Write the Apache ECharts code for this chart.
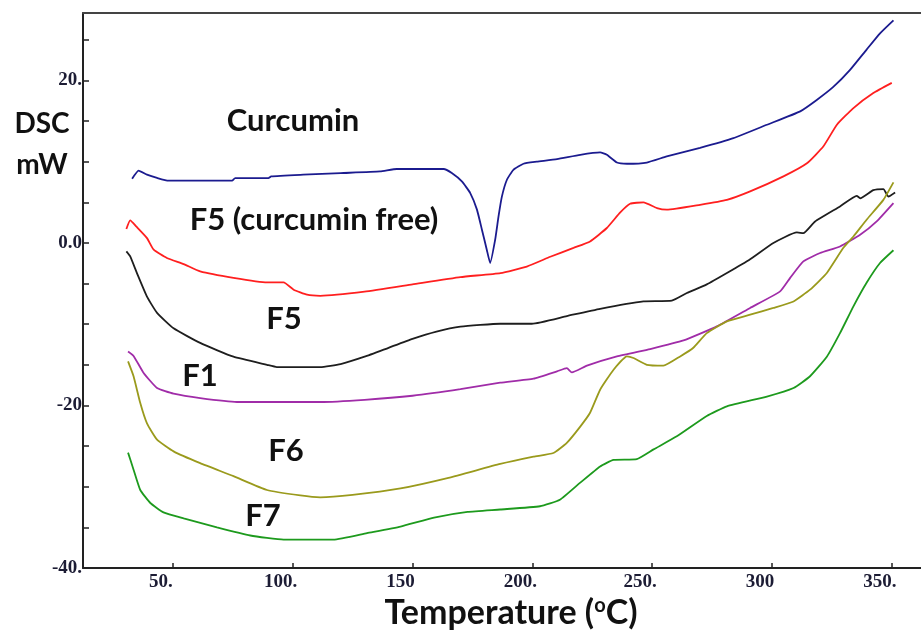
<!DOCTYPE html>
<html>
<head>
<meta charset="utf-8">
<title>DSC thermograms</title>
<script src="https://cdn.jsdelivr.net/npm/echarts@6/dist/echarts.min.js"></script>
<style>
  html, body { margin: 0; padding: 0; background: #fff; }
  #chart { width: 921px; height: 632px; }
</style>
</head>
<body>
<div id="chart"></div>
<script>
// temperature (°C) / heat flow (mW)
const curcuminT = [33.0, 35.7, 39.2, 43.4, 48.2, 74.7, 76, 89.9, 91, 104.4, 120, 136.5, 143.5, 163, 166.4, 170.6, 174.1, 176.9, 179, 181, 182.4, 184.5, 185.9, 187.3, 189.4, 192.1, 196.3, 201.9, 210.3, 220, 228.3, 231.1, 235.3, 239.5, 247.8, 256.1, 270, 283.9, 297.9, 311.8, 318.7, 325.6, 332.6, 339.5, 345.1, 350.7]
const curcuminDSC = [7.9, 8.9, 8.4, 8.0, 7.66, 7.66, 7.99, 7.99, 8.19, 8.4, 8.6, 8.8, 9.1, 9.1, 8.6, 7.57, 6.14, 4.1, 1.6, -0.83, -2.47, 0.4, 3.27, 5.7, 7.78, 9.0, 9.75, 10.0, 10.33, 10.85, 11.14, 10.85, 9.9, 9.75, 9.9, 10.65, 11.7, 12.9, 14.55, 16.2, 17.6, 19.2, 21.3, 23.8, 25.8, 27.4]

const f5FreeT = [30.6, 32.2, 34.8, 39.2, 42, 47.5, 54.5, 61.4, 75.3, 89.3, 96.2, 100.4, 106, 111.5, 130, 150, 170, 186.7, 197.7, 207.5, 217.2, 224.1, 231.1, 236.7, 240.8, 246.4, 252, 256.1, 270, 281.2, 290.9, 304.8, 314.6, 321.5, 327.1, 334, 342.3, 350]
const f5FreeDSC = [1.71, 2.77, 2.0, 0.6, -0.83, -1.85, -2.6, -3.5, -4.3, -4.86, -4.86, -5.75, -6.37, -6.5, -6.0, -5.1, -4.2, -3.7, -2.9, -1.7, -0.6, 0.19, 1.84, 3.76, 4.83, 5.0, 4.3, 4.1, 4.7, 5.3, 6.34, 8.19, 9.8, 11.9, 14.55, 16.6, 18.45, 19.7]

const f5T = [30.6, 32.2, 35, 39.2, 43.4, 50.3, 61.4, 75.3, 89.3, 93.4, 111.5, 120, 130, 140, 150, 160, 170, 186.6, 199.8, 214.4, 228.3, 246.4, 258.2, 264.5, 272.8, 281.2, 290.9, 300.6, 310.4, 313.1, 318, 328.4, 335.4, 336.8, 342.3, 346.5, 348.6, 351.4]
const f5DSC = [-1.04, -1.66, -3.7, -6.6, -8.6, -10.5, -12.3, -14, -15, -15.27, -15.27, -14.9, -14.0, -12.9, -11.8, -10.9, -10.3, -9.94, -9.94, -9.0, -8.1, -7.2, -7.1, -6.16, -5.1, -3.7, -2.0, 0.0, 1.3, 1.2, 2.65, 4.5, 5.8, 5.5, 6.5, 6.63, 5.7, 6.2]

const f1T = [31.3, 33.6, 37.8, 43.4, 50.3, 61.4, 76.7, 111.5, 130, 150, 170, 186.6, 200.5, 210.3, 214.4, 216.5, 222.8, 235.3, 249.2, 263.1, 277, 290.9, 303.4, 307.6, 313.1, 320.1, 328.4, 336.8, 343.7, 350.7]
const f1DSC = [-13.35, -13.9, -16.0, -17.85, -18.55, -19.1, -19.57, -19.57, -19.3, -18.8, -18.0, -17.2, -16.7, -15.8, -15.4, -15.93, -15.1, -13.96, -13.05, -12.0, -10.27, -8.0, -5.96, -4.3, -2.27, -1.24, -0.43, 1.0, 2.65, 4.9]

const f6T = [31.3, 33.6, 36.4, 39.2, 43.4, 50.3, 61.4, 75.3, 89.3, 103.2, 111.5, 125, 145, 165, 186.6, 200.5, 208.8, 214.4, 220, 224.1, 228.3, 233.9, 239.5, 242.2, 247.8, 254.7, 261.7, 267.2, 272.8, 281.2, 290.9, 300.6, 309, 315.9, 322.9, 329.8, 334, 339.5, 346.5, 350.7]
const f6DSC = [-14.57, -16.4, -19.7, -22.2, -24.2, -25.65, -27.1, -28.7, -30.4, -31.07, -31.3, -31.0, -30.2, -28.9, -27.2, -26.3, -25.85, -24.6, -22.6, -20.9, -18.06, -15.6, -13.96, -14.16, -15, -15.1, -13.96, -12.9, -11.1, -9.65, -8.83, -8.0, -7.2, -5.75, -3.7, -0.6, 0.8, 2.86, 5.3, 7.45]

const f7T = [31.3, 33.6, 36.4, 40.6, 46.1, 54.5, 68.4, 82.3, 96.2, 117, 131, 145, 159, 173, 186.6, 203.2, 211.5, 220, 228.3, 233.9, 243.6, 250.6, 260.3, 272.8, 281.2, 297.9, 309, 315.9, 322.9, 328.4, 334, 339.5, 345.1, 350.7]
const f7DSC = [-25.8, -27.9, -30.4, -32.0, -33.16, -33.9, -35.0, -36.0, -36.5, -36.5, -35.7, -34.9, -33.8, -33.1, -32.8, -32.4, -31.6, -29.5, -27.5, -26.7, -26.6, -25.4, -23.8, -21.3, -20.1, -18.9, -17.85, -16.4, -14.0, -11.1, -7.8, -4.9, -2.47, -0.9]

// axis ticks and the odd labels printed on the original
const xTicks = [50, 100, 150, 200, 250, 300, 350]
const xTickLabels = ['50.', '100.', '150', '200.', '250.', '300', '350.']
const yMinorTicks = [-40, -35, -30, -25, -20, -15, -10, -5, 0, 5, 10, 15, 20, 25]
const yTicks = [-40, -20, 0, 20]
const yTickLabels = ['-40.', '-20', '0.0', '20.']

const zip = (xs, ys) => xs.map((x, i) => [x, ys[i]])

const seriesList = [
  { name: 'Curcumin', t: curcuminT, v: curcuminDSC, color: '#1b1b8f' },
  { name: 'F5 (curcumin free)', t: f5FreeT, v: f5FreeDSC, color: '#ff1f1f' },
  { name: 'F5', t: f5T, v: f5DSC, color: '#1e1e1e' },
  { name: 'F1', t: f1T, v: f1DSC, color: '#a02ca8' },
  { name: 'F6', t: f6T, v: f6DSC, color: '#9a9a1c' },
  { name: 'F7', t: f7T, v: f7DSC, color: '#1d9a1d' }
]

const labelFont = 'bold 31px Lato'
const tickFont = {
  fontFamily: 'Liberation Serif',
  fontWeight: 'bold',
  fontSize: 19,
  color: '#1c1c34'
}

// plain centred text placed on the plot
const note = (text, x, y, font) => ({
  type: 'text',
  x: x,
  y: y,
  style: { text: text, font: font || labelFont, fill: '#111', textAlign: 'center', textVerticalAlign: 'middle' }
})

const chart = echarts.init(document.getElementById('chart'))

chart.setOption({
  animation: false,
  backgroundColor: '#fff',
  grid: { left: 83, right: 0, top: 13, bottom: 64 },
  xAxis: [
    {
      type: 'value',
      min: 12.5,
      max: 362.2,
      splitLine: { show: false },
      axisLine: { onZero: false, lineStyle: { color: '#222', width: 2 } },
      axisTick: { inside: true, length: 5, customValues: xTicks, lineStyle: { color: '#222', width: 1.5 } },
      axisLabel: Object.assign({
        customValues: xTicks,
        margin: 5,
        padding: [0, 24, 0, 0],
        formatter: v => xTickLabels[xTicks.indexOf(v)] || ''
      }, tickFont)
    },
    {
      type: 'value',
      position: 'top',
      min: 12.5,
      max: 362.2,
      splitLine: { show: false },
      axisLine: { onZero: false, lineStyle: { color: '#444', width: 2 } },
      axisTick: { show: false },
      axisLabel: { show: false }
    }
  ],
  yAxis: {
    type: 'value',
    min: -40,
    max: 28.3,
    splitLine: { show: false },
    axisLine: { onZero: false, lineStyle: { color: '#222', width: 2 } },
    axisTick: { inside: true, length: 6, customValues: yMinorTicks, lineStyle: { color: '#222', width: 1.5 } },
    axisLabel: Object.assign({
      customValues: yTicks,
      margin: 1,
      formatter: v => yTickLabels[yTicks.indexOf(v)] || ''
    }, tickFont)
  },
  series: seriesList.map(s => ({
    name: s.name,
    type: 'line',
    data: zip(s.t, s.v),
    showSymbol: false,
    smooth: 0.15,
    lineStyle: { color: s.color, width: 1.8 }
  })),
  graphic: [
    note('DSC', 42, 124, 'bold 28px Lato'),
    note('mW', 42, 165, 'bold 28px Lato'),
    note('Curcumin', 293, 121),
    note('F5 (curcumin free)', 314, 220),
    note('F5', 284, 319),
    note('F1', 200, 376),
    note('F6', 286, 451),
    note('F7', 263, 516),
    {
      type: 'text',
      x: 511,
      y: 613,
      style: {
        text: 'Temperature ({sup|o}C)',
        font: 'bold 34px Lato',
        fill: '#111',
        textAlign: 'center',
        textVerticalAlign: 'middle',
        rich: {
          sup: { fontSize: 20, fontWeight: 'bold', fontFamily: 'Lato', verticalAlign: 'top', lineHeight: 34, padding: [0, 0, 16, 0] }
        }
      }
    }
  ]
})

window.addEventListener('resize', () => chart.resize())
</script>
</body>
</html>
